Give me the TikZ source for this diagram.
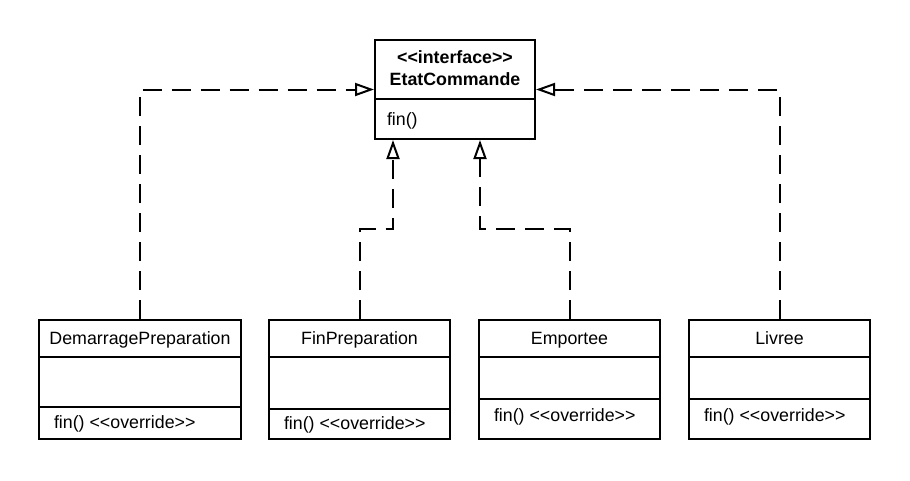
\documentclass[tikz,border=0pt]{standalone}
\usepackage{fontspec}
\setmainfont{Liberation Sans}[Ligatures=TeXOff]
\usetikzlibrary{arrows.meta}

\begin{document}
\begin{tikzpicture}[x=1pt,y=-1pt,line width=2pt,
  every node/.style={font=\fontsize{17.8}{22}\selectfont,inner sep=0pt},
  classbox/.style={draw,rectangle,minimum height=119pt},
  realize/.style={dash pattern=on 19pt off 10pt,-{Triangle[open,length=19pt,width=13pt,fill=white]}}]
  \useasboundingbox (0,0) rectangle (910,480);

  % Interface
  \node[draw,rectangle,minimum width=160pt,minimum height=99pt] (EC) at (455,89.5) {};
  \draw (EC.west |- 0,99) -- (EC.east |- 0,99);
  \node[anchor=base] (ECstereo) at (455,63) {\bfseries <<interface>>};
  \node[anchor=base] (ECname) at (455,85) {\bfseries EtatCommande};
  \node[anchor=base west] (ECop) at (386,125) {fin()};

  % Implementations
  \node[classbox,minimum width=202pt] (DP) at (140,379.5) {};
  \node[classbox,minimum width=181pt] (FP) at (359.5,379.5) {};
  \node[classbox,minimum width=181pt] (EM) at (569.5,379.5) {};
  \node[classbox,minimum width=181pt] (LV) at (779.5,379.5) {};

  \draw (DP.west |- 0,357) -- (DP.east |- 0,357);
  \draw (DP.west |- 0,407) -- (DP.east |- 0,407);
  \draw (FP.west |- 0,357) -- (FP.east |- 0,357);
  \draw (FP.west |- 0,409) -- (FP.east |- 0,409);
  \draw (EM.west |- 0,357) -- (EM.east |- 0,357);
  \draw (EM.west |- 0,399) -- (EM.east |- 0,399);
  \draw (LV.west |- 0,357) -- (LV.east |- 0,357);
  \draw (LV.west |- 0,399) -- (LV.east |- 0,399);

  \node[anchor=base] (DPname) at (140,344) {DemarragePreparation};
  \node[anchor=base] (FPname) at (359.5,344) {FinPreparation};
  \node[anchor=base] (EMname) at (569.5,344) {Emportee};
  \node[anchor=base] (LVname) at (779.5,344) {Livree};

  \node[anchor=base west] (DPop) at (53,428) {fin() <<override>>};
  \node[anchor=base west] (FPop) at (283,429) {fin() <<override>>};
  \node[anchor=base west] (EMop) at (493,421) {fin() <<override>>};
  \node[anchor=base west] (LVop) at (703,421) {fin() <<override>>};

  % Realizations
  \draw[realize] (DP.north) |- (EC.west);
  \draw[realize] (LV.north) |- (EC.east);
  \draw[realize] (FP.north) -- (FP.north |- 0,229) -| ([xshift=-62pt]EC.south);
  \draw[realize] (EM.north) -- (EM.north |- 0,229) -| ([xshift=25pt]EC.south);
\end{tikzpicture}
\end{document}
